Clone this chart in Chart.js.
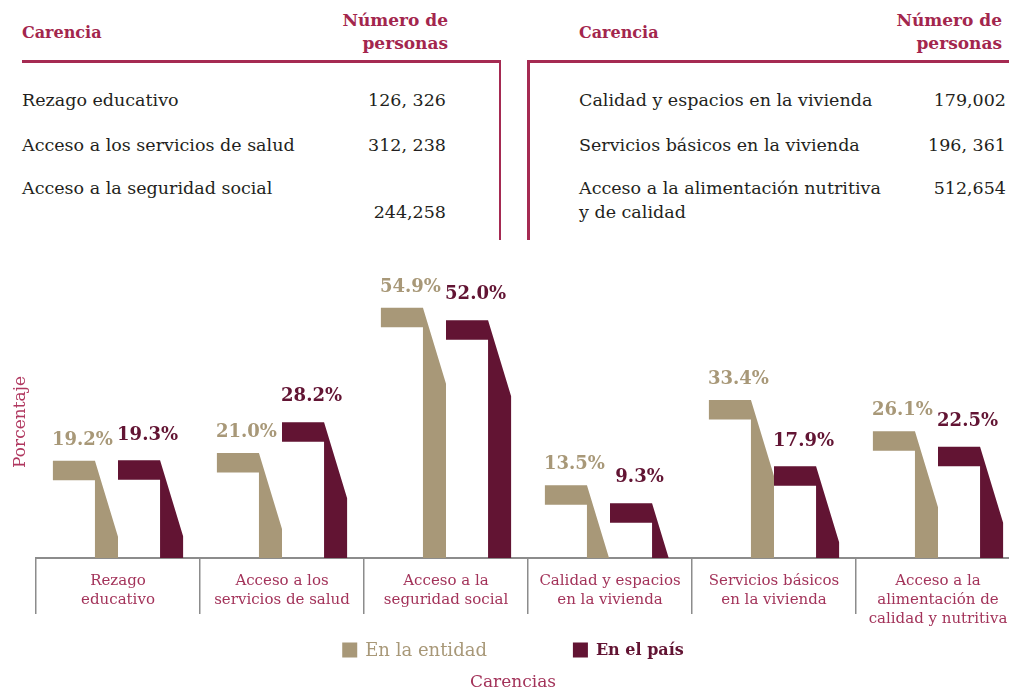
<!DOCTYPE html>
<html><head><meta charset="utf-8">
<script src="https://cdn.jsdelivr.net/npm/chart.js@4.4.1/dist/chart.umd.min.js"></script>
<style>
html,body{margin:0;padding:0;background:#fff;}
#page{position:relative;width:1009px;height:692px;overflow:hidden;font-family:"DejaVu Serif",serif;}
.t{position:absolute;white-space:nowrap;color:#231f20;font-size:17.5px;line-height:20px;}
.h{position:absolute;white-space:nowrap;color:#a3264d;font-weight:bold;font-size:16px;line-height:23px;}
.h2{font-size:17px;}
.r{text-align:right;}
.ln{position:absolute;background:#a52a52;}
#wrap{position:absolute;left:0;top:240px;width:1020px;height:452px;}
</style></head>
<body><div id="page">
<!-- left table -->
<div class="h" style="left:22px;top:21px;">Carencia</div>
<div class="h h2 r" style="right:561px;top:9px;">Número de<br>personas</div>
<div class="ln" style="left:22px;top:60px;width:479px;height:2.5px;"></div>
<div class="ln" style="left:498.5px;top:60px;width:2.5px;height:180px;"></div>
<div class="t" style="left:22px;top:90px;">Rezago educativo</div>
<div class="t r" style="right:563px;top:90px;">126, 326</div>
<div class="t" style="left:22px;top:135px;">Acceso a los servicios de salud</div>
<div class="t r" style="right:563px;top:135px;">312, 238</div>
<div class="t" style="left:22px;top:178px;">Acceso a la seguridad social</div>
<div class="t r" style="right:563px;top:202px;">244,258</div>
<!-- right table -->
<div class="h" style="left:579px;top:21px;">Carencia</div>
<div class="h h2 r" style="right:7px;top:9px;">Número de<br>personas</div>
<div class="ln" style="left:527px;top:60px;width:482px;height:2.5px;"></div>
<div class="ln" style="left:527px;top:60px;width:2.5px;height:180px;"></div>
<div class="t" style="left:579px;top:90px;">Calidad y espacios en la vivienda</div>
<div class="t r" style="right:3px;top:90px;">179,002</div>
<div class="t" style="left:579px;top:135px;">Servicios básicos en la vivienda</div>
<div class="t r" style="right:3px;top:135px;">196, 361</div>
<div class="t" style="left:579px;top:178px;">Acceso a la alimentación nutritiva</div>
<div class="t" style="left:579px;top:202px;">y de calidad</div>
<div class="t r" style="right:3px;top:178px;">512,654</div>
<div id="wrap"><canvas id="c" width="1020" height="452"></canvas></div>
</div>
<script>
const categories = [
  ["Rezago","educativo"],
  ["Acceso a los","servicios de salud"],
  ["Acceso a la","seguridad social"],
  ["Calidad y espacios","en la vivienda"],
  ["Servicios básicos","en la vivienda"],
  ["Acceso a la","alimentación de","calidad y nutritiva"]
];
const entidad = [19.2, 21.0, 54.9, 13.5, 33.4, 26.1];
const pais = [19.3, 28.2, 52.0, 9.3, 17.9, 22.5];
const seriesNames = ["En la entidad", "En el país"];
const seriesColors = ["#a89878", "#621433"];
const axisTitles = {x: "Carencias", y: "Porcentaje"};
const yRange = {min: -3.5, max: 60};

const SERIF = "'DejaVu Serif', serif";
const CRIMSON = "#a3335a";

const sevenBars = {
  id: 'sevenBars',
  beforeDatasetDraw(chart, args) {
    const ctx = chart.ctx;
    const ds = chart.data.datasets[args.index];
    ctx.save();
    ctx.fillStyle = ds.backgroundColor;
    args.meta.data.forEach(el => {
      const {x, y, base, width} = el.getProps(['x', 'y', 'base', 'width'], true);
      const L = x - width / 2, R = x + width / 2;
      const S = L + width * 0.646;
      const capH = 19.5, drop = 76;
      const slope = (R - S) / drop;
      const yEnd = Math.min(y + drop, base);
      const xEnd = S + (yEnd - y) * slope;
      ctx.beginPath();
      ctx.moveTo(L, y);
      ctx.lineTo(S, y);
      ctx.lineTo(xEnd, yEnd);
      if (yEnd < base) ctx.lineTo(xEnd, base);
      ctx.lineTo(S, base);
      ctx.lineTo(S, y + capH);
      ctx.lineTo(L, y + capH);
      ctx.closePath();
      ctx.fill();
    });
    ctx.restore();
    return false;
  },
  afterDatasetsDraw(chart) {
    const ctx = chart.ctx;
    ctx.save();
    ctx.textAlign = 'center';
    ctx.textBaseline = 'middle';
    ctx.font = "bold 18px " + SERIF;
    chart.data.datasets.forEach((ds, i) => {
      const meta = chart.getDatasetMeta(i);
      ctx.fillStyle = ds.backgroundColor;
      meta.data.forEach((el, j) => {
        const v = ds.data[j];
        ctx.fillText(v.toFixed(1) + '%', el.x - 3, el.y - (i === 0 ? 20.5 : 25.5));
      });
    });
    ctx.restore();
  },
  afterDraw(chart) {
    const ctx = chart.ctx;
    const cx = 513;
    const ly = 410;
    ctx.save();
    ctx.textBaseline = 'middle';
    ctx.textAlign = 'left';
    const fonts = ["18px " + SERIF, "bold 16px " + SERIF];
    const sq = 15, gap = 8, itemGap = 86;
    const widths = seriesNames.map((n, i) => { ctx.font = fonts[i]; return ctx.measureText(n).width; });
    const total = sq + gap + widths[0] + itemGap + sq + gap + widths[1];
    let x = cx - total / 2;
    seriesNames.forEach((n, i) => {
      ctx.fillStyle = seriesColors[i];
      ctx.fillRect(x, ly - sq / 2, sq, sq);
      ctx.font = fonts[i];
      ctx.fillText(n, x + sq + gap, ly + 1);
      x += sq + gap + widths[i] + itemGap;
    });
    ctx.textAlign = 'center';
    ctx.fillStyle = CRIMSON;
    ctx.font = "17px " + SERIF;
    ctx.fillText(axisTitles.x, cx, 443);
    ctx.restore();
  }
};

new Chart(document.getElementById('c'), {
  type: 'bar',
  data: {
    labels: categories,
    datasets: [
      {label: seriesNames[0], data: entidad, backgroundColor: seriesColors[0], base: yRange.min},
      {label: seriesNames[1], data: pais, backgroundColor: seriesColors[1], base: yRange.min}
    ]
  },
  options: {
    responsive: false,
    animation: false,
    events: [],
    layout: {padding: {top: 46, bottom: 62, left: 0, right: 0}},
    datasets: {bar: {categoryPercentage: 0.794, barPercentage: 1.0}},
    plugins: {legend: {display: false}, tooltip: {enabled: false}, title: {display: false}},
    scales: {
      x: {
        offset: true,
        grid: {display: true, drawOnChartArea: false, drawTicks: true, tickLength: 56, offset: true, color: '#8c8c8c', lineWidth: 1.5},
        border: {display: true, color: '#8c8c8c', width: 2},
        ticks: {padding: -42, color: CRIMSON, font: {family: SERIF, size: 15, lineHeight: 1.246}, maxRotation: 0, autoSkip: false},
        afterFit(s) { s.height = 72; }
      },
      y: {
        min: yRange.min, max: yRange.max,
        grid: {display: false},
        border: {display: false},
        ticks: {display: false},
        title: {display: true, text: axisTitles.y, color: '#b0375f', font: {family: SERIF, size: 17}, padding: {top: 10, bottom: 0}},
        afterFit(s) { s.width = 36; }
      }
    }
  },
  plugins: [sevenBars]
});
</script>
</body></html>
